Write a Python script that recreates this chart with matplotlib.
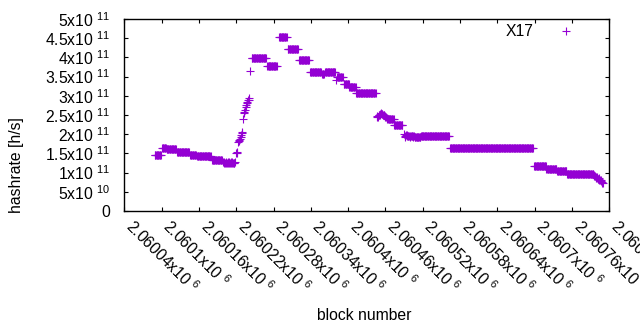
import numpy as np
import matplotlib
matplotlib.use("Agg")
import matplotlib.pyplot as plt

# ---- data ----
# constant-hashrate runs: first block, last block, hashrate (x1e11 h/s)
seg_start = [2060089, 2060101, 2060108, 2060125, 2060146, 2060157, 2060181,
             2060245, 2060270, 2060289, 2060303, 2060321, 2060339, 2060358,
             2060363, 2060382, 2060393, 2060402, 2060413, 2060463, 2060474,
             2060507, 2060517, 2060564, 2060699, 2060719, 2060736, 2060752]
seg_end = [2060099, 2060107, 2060123, 2060144, 2060155, 2060179, 2060197,
           2060268, 2060285, 2060301, 2060319, 2060337, 2060356, 2060361,
           2060379, 2060391, 2060401, 2060412, 2060444, 2060473, 2060487,
           2060516, 2060562, 2060697, 2060718, 2060735, 2060751, 2060794]
seg_value = [1.45, 1.635, 1.61, 1.53, 1.46, 1.43, 1.32,
             3.98, 3.77, 4.52, 4.21, 3.92, 3.61, 3.57,
             3.62, 3.50, 3.30, 3.22, 3.06, 2.40, 2.23,
             1.92, 1.95, 1.63, 1.17, 1.10, 1.03, 0.955]

# individually varying blocks
pt_block = list(range(2060199, 2060219)) + list(range(2060220, 2060243)) + \
    [2060381] + list(range(2060446, 2060463)) + list(range(2060490, 2060507)) + \
    list(range(2060795, 2060811))
pt_value = [1.27, 1.26, 1.28, 1.25, 1.27, 1.26, 1.24, 1.27, 1.26, 1.28,
            1.25, 1.26, 1.27, 1.24, 1.26, 1.27, 1.25, 1.26, 1.24, 1.27,
            1.50, 1.54, 1.52, 1.80, 1.83, 1.86, 1.88, 1.92, 1.98, 2.04,
            2.06, 2.40, 2.55, 2.59, 2.62, 2.72, 2.75, 2.80, 2.85, 2.88,
            2.93, 2.90, 3.65,
            3.41,
            2.45, 2.47, 2.46, 2.49, 2.50, 2.52, 2.51, 2.54, 2.53, 2.52,
            2.50, 2.51, 2.49, 2.47, 2.46, 2.44, 2.43,
            2.00, 1.92, 1.96, 1.97, 1.96, 1.97, 1.96, 1.95, 1.96, 1.95,
            1.94, 1.96, 1.95, 1.96, 1.95, 1.94, 1.95,
            0.93, 0.90, 0.92, 0.88, 0.86, 0.89, 0.85, 0.83, 0.86, 0.82,
            0.80, 0.78, 0.80, 0.76, 0.74, 0.72]

x_ticks = [2060040 + 60 * k for k in range(14)]
x_tick_labels = ["2.06004", "2.0601", "2.06016", "2.06022", "2.06028", "2.06034",
                 "2.0604", "2.06046", "2.06052", "2.06058", "2.06064", "2.0607",
                 "2.06076", "2.06082"]
y_ticks = [0, 0.5e11, 1e11, 1.5e11, 2e11, 2.5e11, 3e11, 3.5e11, 4e11, 4.5e11, 5e11]
y_tick_mant = ["0", "5", "1", "1.5", "2", "2.5", "3", "3.5", "4", "4.5", "5"]
y_tick_exp = [None, 10, 11, 11, 11, 11, 11, 11, 11, 11, 11]
series_name = "X17"

# ---- expand runs into per-block points ----
xs, ys = [], []
for s, e, v in zip(seg_start, seg_end, seg_value):
    b = np.arange(s, e + 1)
    xs.append(b)
    ys.append(np.full(b.size, v * 1e11))
xs.append(np.array(pt_block))
ys.append(np.array(pt_value) * 1e11)
x = np.concatenate(xs)
y = np.concatenate(ys)
order = np.argsort(x)
x, y = x[order], y[order]

# ---- style ----
plt.rcParams['font.family'] = ['Liberation Sans', 'DejaVu Sans']
plt.rcParams['mathtext.fontset'] = 'custom'
plt.rcParams['mathtext.rm'] = 'Liberation Sans'
plt.rcParams['mathtext.it'] = 'Liberation Sans:italic'
plt.rcParams['mathtext.bf'] = 'Liberation Sans:bold'
FS = 11.3

fig = plt.figure(figsize=(6.4, 3.3), dpi=100)
ax = fig.add_axes([124.3 / 640, 1 - 211 / 330, (609.3 - 124.3) / 640, (211 - 19) / 330])

color = '#9400D3'
ax.plot(x, y, linestyle='none', marker='+', markersize=5.2, markeredgewidth=0.8,
        color=color, label=series_name)

ax.set_xlim(x_ticks[0], x_ticks[-1])
ax.set_ylim(0, 5e11)

ax.set_xticks(x_ticks)
ax.set_xticklabels([r'%sx10$\ ^{6}$' % t for t in x_tick_labels],
                   rotation=-45, ha='left', va='baseline', rotation_mode='anchor',
                   fontsize=FS)
ax.set_yticks(y_ticks)
ylabels = []
for m, e in zip(y_tick_mant, y_tick_exp):
    ylabels.append(m if e is None else r'%sx10$\ ^{%d}$' % (m, e))
ax.set_yticklabels(ylabels, fontsize=FS)

ax.tick_params(direction='in', length=3, width=0.8, top=True, right=True,
               colors='black')
ax.tick_params(axis='y', pad=10)
ax.tick_params(axis='x', pad=12)
for sp in ax.spines.values():
    sp.set_linewidth(1.0)

ax.set_ylabel('hashrate [h/s]', fontsize=FS)
ax.yaxis.set_label_coords(17 / 640, 0.5, transform=fig.transFigure)
ax.set_xlabel('block number', fontsize=FS)
ax.xaxis.set_label_coords(364 / 640, 1 - 315 / 330, transform=fig.transFigure)
ax.xaxis.label.set_va('center')
ax.yaxis.label.set_va('center')

leg = ax.legend(loc='center right', bbox_to_anchor=(586.5 / 640, 1 - 32 / 330),
                bbox_transform=fig.transFigure, frameon=False, markerfirst=False,
                borderpad=0, handlelength=1.6, handletextpad=1.3, fontsize=FS)

fig.savefig('out.png', dpi=100)
